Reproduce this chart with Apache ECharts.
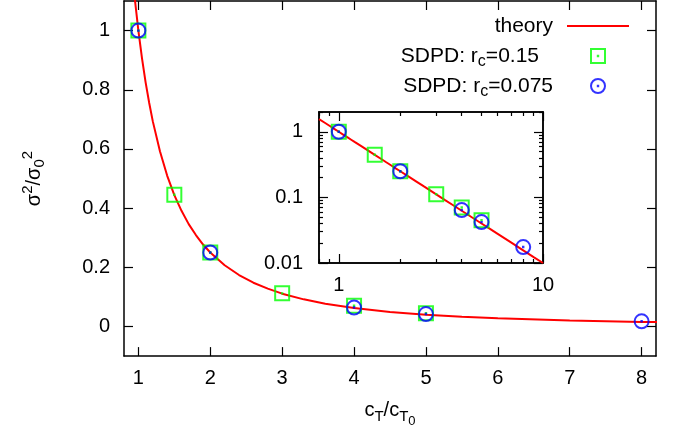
<!DOCTYPE html>
<html><head><meta charset="utf-8">
<script src="https://cdn.jsdelivr.net/npm/echarts@6/dist/echarts.min.js"></script>
<style>html,body{margin:0;padding:0;background:#fff}#c{width:674px;height:433px}</style>
</head><body><div id="c"></div>
<script>
// ---- data ----
const mainXTicks = [1, 2, 3, 4, 5, 6, 7, 8];
const mainYTicks = [0, 0.2, 0.4, 0.6, 0.8, 1];
const insetXMajor = [1, 10];
const insetXMinor = [0.8, 0.9, 2, 3, 4, 5, 6, 7, 8, 9];
const insetYMajor = [0.01, 0.1, 1];
const insetYMinor = [0.02, 0.03, 0.04, 0.05, 0.06, 0.07, 0.08, 0.09, 0.2, 0.3, 0.4, 0.5, 0.6, 0.7, 0.8, 0.9, 2];
const theoryX = [0.8, 0.85, 0.9, 0.95, 1, 1.05, 1.1, 1.15, 1.2, 1.3, 1.4, 1.5, 1.6, 1.7, 1.8, 1.9, 2, 2.2, 2.4, 2.6, 2.8, 3, 3.3, 3.6, 4, 4.5, 5, 5.5, 6, 7, 8, 9, 10];
const theoryY = [1.5625, 1.384, 1.235, 1.108, 1, 0.907, 0.826, 0.756, 0.694, 0.592, 0.510, 0.444, 0.391, 0.346, 0.309, 0.277, 0.25, 0.207, 0.174, 0.148, 0.128, 0.111, 0.0918, 0.0772, 0.0625, 0.0494, 0.04, 0.0331, 0.0278, 0.0204, 0.0156, 0.0123, 0.01];
const rc015X = [1, 1.5, 2, 3, 4, 5];
const rc015Y = [1, 0.445, 0.25, 0.112, 0.07, 0.045];
const rc0075X = [1, 2, 4, 5, 8];
const rc0075Y = [1, 0.25, 0.064, 0.042, 0.0175];
const seriesNames = ['theory', 'SDPD: r_c=0.15', 'SDPD: r_c=0.075'];

// ---- styling ----
const FONT = 'Liberation Sans, Arial, Helvetica, sans-serif';
const zip = (a, b) => a.map((v, i) => [v, b[i]]);
const lineSt = { color: '#000', width: 1.5 };
const tickSt = { color: '#000', width: 1.2 };
const labelSt = { fontSize: 20, color: '#000', fontFamily: FONT };
const sqSymbol = 'path://M0,0H10V10H0Z M4.85,4.85H5.15V5.15H4.85Z';
const ciSymbol = 'path://M0,5A5,5,0,1,1,10,5A5,5,0,1,1,0,5Z M4.85,4.85H5.15V5.15H4.85Z';
const fmt = v => String(Number(Number(v).toPrecision(6)));

function axis(o) {
  const base = {
    splitLine: { show: false },
    axisLine: { show: true, onZero: false, lineStyle: lineSt },
    axisTick: { show: true, inside: true, length: o.tickLen, customValues: o.ticks, lineStyle: tickSt },
    axisLabel: o.labels ? Object.assign({ customValues: o.ticks, formatter: fmt }, labelSt, { margin: o.margin }) : { show: false },
    axisPointer: { show: false },
    silent: true
  };
  delete o.tickLen; delete o.ticks; delete o.labels; delete o.margin;
  return Object.assign(base, o);
}

const xName = 'c{sub|T}/c{sub|T}{sub2|0}';
const yName = 'σ{sup|2}/σ{sub|0}{sup|2}';

const option = {
  animation: false,
  backgroundColor: '#fff',
  grid: [
    { left: 124, right: 18, top: 1, bottom: 76, containLabel: false },
    { left: 319, right: 131, top: 112, bottom: 170, containLabel: false, show: true, backgroundColor: '#fff', borderWidth: 0, z: 5 }
  ],
  xAxis: [
    axis({ gridIndex: 0, type: 'value', min: 0.8, max: 8.2, position: 'bottom', ticks: mainXTicks, tickLen: 9, labels: true, margin: 12,
      name: xName, nameLocation: 'middle', nameGap: 40,
      nameTextStyle: { fontSize: 20, fontFamily: FONT, color: '#000', lineHeight: 24,
        rich: { sub: { fontSize: 15, fontFamily: FONT, color: '#000', lineHeight: 18, padding: [12, 0, 0, 0] },
                sub2: { fontSize: 13, fontFamily: FONT, color: '#000', lineHeight: 16, padding: [22, 0, 0, 0] } } } }),
    axis({ gridIndex: 0, type: 'value', min: 0.8, max: 8.2, position: 'top', ticks: mainXTicks, tickLen: 9, labels: false }),
    axis({ gridIndex: 1, type: 'log', logBase: 10, min: 0.8, max: 10, position: 'bottom', ticks: insetXMajor, tickLen: 9, labels: true, margin: 12, z: 6 }),
    axis({ gridIndex: 1, type: 'log', logBase: 10, min: 0.8, max: 10, position: 'bottom', ticks: insetXMinor, tickLen: 4, labels: false, z: 6 }),
    axis({ gridIndex: 1, type: 'log', logBase: 10, min: 0.8, max: 10, position: 'top', ticks: insetXMajor, tickLen: 9, labels: false, z: 6 }),
    axis({ gridIndex: 1, type: 'log', logBase: 10, min: 0.8, max: 10, position: 'top', ticks: insetXMinor, tickLen: 4, labels: false, z: 6 })
  ],
  yAxis: [
    axis({ gridIndex: 0, type: 'value', min: -0.1, max: 1.1, position: 'left', ticks: mainYTicks, tickLen: 9, labels: true, margin: 14,
      name: yName, nameLocation: 'middle', nameGap: 78, nameRotate: 90,
      nameTextStyle: { fontSize: 20, fontFamily: FONT, color: '#000', lineHeight: 24,
        rich: { sup: { fontSize: 15, fontFamily: FONT, color: '#000', lineHeight: 18, padding: [0, 0, 12, 0] },
                sub: { fontSize: 15, fontFamily: FONT, color: '#000', lineHeight: 18, padding: [12, 0, 0, 0] } } } }),
    axis({ gridIndex: 0, type: 'value', min: -0.1, max: 1.1, position: 'right', ticks: mainYTicks, tickLen: 9, labels: false }),
    axis({ gridIndex: 1, type: 'log', logBase: 10, min: 0.01, max: 2, position: 'left', ticks: insetYMajor, tickLen: 9, labels: true, margin: 16, z: 6 }),
    axis({ gridIndex: 1, type: 'log', logBase: 10, min: 0.01, max: 2, position: 'left', ticks: insetYMinor, tickLen: 4, labels: false, z: 6 }),
    axis({ gridIndex: 1, type: 'log', logBase: 10, min: 0.01, max: 2, position: 'right', ticks: insetYMajor, tickLen: 9, labels: false, z: 6 }),
    axis({ gridIndex: 1, type: 'log', logBase: 10, min: 0.01, max: 2, position: 'right', ticks: insetYMinor, tickLen: 4, labels: false, z: 6 })
  ],
  legend: {
    data: [
      { name: seriesNames[0], icon: 'path://M0,0H31V1H0Z' },
      { name: seriesNames[1], textStyle: { padding: [0, 23, 0, 0] } },
      { name: seriesNames[2] }
    ],
    orient: 'vertical', right: 45, top: 11, align: 'right', padding: 0,
    itemWidth: 62, itemHeight: 14, itemGap: 0, selectedMode: false,
    formatter: n => n.replace('r_c', 'r{sub|c}'),
    textStyle: { fontSize: 21, fontFamily: FONT, color: '#000', lineHeight: 30, padding: [0, 9, 0, 0],
      rich: { sub: { fontSize: 16, fontFamily: FONT, color: '#000', lineHeight: 18, padding: [12, 0, 0, 0] } } },
    z: 20
  },
  series: [
    { name: seriesNames[0], type: 'line', xAxisIndex: 0, yAxisIndex: 0, data: zip(theoryX, theoryY), symbol: 'none',
      lineStyle: { color: '#ff0000', width: 2 }, itemStyle: { color: '#ff0000' }, clip: true, silent: true, z: 3 },
    { name: seriesNames[1], type: 'scatter', xAxisIndex: 0, yAxisIndex: 0, data: zip(rc015X, rc015Y), symbol: sqSymbol, symbolSize: 14,
      itemStyle: { color: 'rgba(0,0,0,0)', borderColor: '#00ff00', borderWidth: 2 }, silent: true, z: 4 },
    { name: seriesNames[2], type: 'scatter', xAxisIndex: 0, yAxisIndex: 0, data: zip(rc0075X, rc0075Y), symbol: ciSymbol, symbolSize: 14,
      itemStyle: { color: 'rgba(0,0,0,0)', borderColor: '#0000ff', borderWidth: 2 }, silent: true, z: 5 },
    { name: seriesNames[0], type: 'line', xAxisIndex: 2, yAxisIndex: 2, data: zip(theoryX, theoryY), symbol: 'none',
      lineStyle: { color: '#ff0000', width: 2 }, itemStyle: { color: '#ff0000' }, clip: true, silent: true, z: 7 },
    { name: seriesNames[1], type: 'scatter', xAxisIndex: 2, yAxisIndex: 2, data: zip(rc015X, rc015Y), symbol: sqSymbol, symbolSize: 14,
      itemStyle: { color: 'rgba(0,0,0,0)', borderColor: '#00ff00', borderWidth: 2 }, silent: true, z: 8 },
    { name: seriesNames[2], type: 'scatter', xAxisIndex: 2, yAxisIndex: 2, data: zip(rc0075X, rc0075Y), symbol: ciSymbol, symbolSize: 14,
      itemStyle: { color: 'rgba(0,0,0,0)', borderColor: '#0000ff', borderWidth: 2 }, silent: true, z: 9 }
  ]
};
const chart = echarts.init(document.getElementById('c'), null, { renderer: 'canvas' });
chart.setOption(option);
</script></body></html>
